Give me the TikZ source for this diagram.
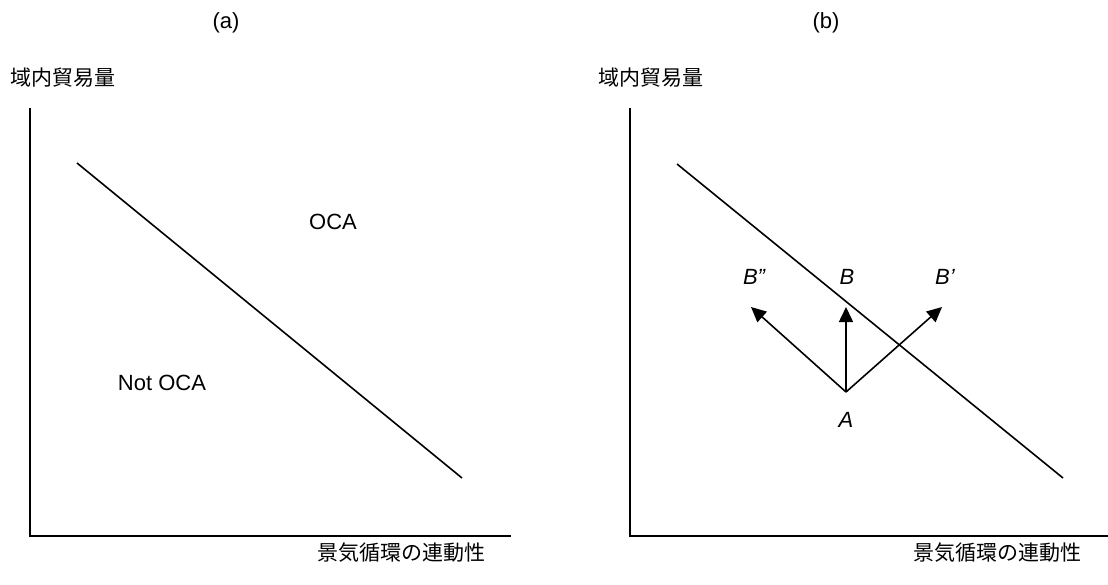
\documentclass[tikz,border=0pt]{standalone}
\usepackage{fontspec}
\setmainfont{Liberation Sans}
\newfontfamily\cjk{Noto Sans CJK JP}[Scale=1.0]
\usetikzlibrary{arrows.meta}
\begin{document}
\begin{tikzpicture}[x=1pt,y=-1pt,
  lbl/.style={inner sep=0pt,font=\fontsize{22}{24}\selectfont},
  jlbl/.style={inner sep=0pt,font=\fontsize{21}{24}\selectfont\cjk},
  axis/.style={line width=2.4pt},
  diag/.style={line width=1.6pt},
  vec/.style={line width=1.6pt,-{Triangle[length=15pt,width=14pt]}}]
\useasboundingbox (0,0) rectangle (1108,584);
% panel (a)
\node[lbl] (ta) at (226,23) {(a)};
\node[jlbl,anchor=west] (ya) at (10,78) {域内貿易量};
\coordinate (oa) at (30,536);
\coordinate (yta) at (30,108);
\coordinate (xea) at (511,536);
\draw[axis] (yta) -- (oa) -- (xea);
\coordinate (d1a) at (77,163);
\coordinate (d2a) at (462,478);
\draw[diag] (d1a) -- (d2a);
\node[lbl] (oca) at (333,222) {OCA};
\node[lbl] (noca) at (162,383) {Not OCA};
\node[jlbl,anchor=east] (xa) at (486,553) {景気循環の連動性};
% panel (b)
\node[lbl] (tb) at (826,23) {(b)};
\node[jlbl,anchor=west] (yb) at (598,78) {域内貿易量};
\coordinate (ob) at (630,536);
\coordinate (ytb) at (630,108);
\coordinate (xeb) at (1111,536);
\draw[axis] (ytb) -- (ob) -- (xeb);
\coordinate (d1b) at (677,164);
\coordinate (d2b) at (1063,478);
\draw[diag] (d1b) -- (d2b);
\node[jlbl,anchor=east] (xb) at (1082,553) {景気循環の連動性};
\coordinate (a0) at (846,392);
\coordinate (tB2) at (751,307);
\coordinate (tB) at (846,307);
\coordinate (tB1) at (942,307);
\draw[vec] (a0) -- (tB2);
\draw[vec] (a0) -- (tB);
\draw[vec] (a0) -- (tB1);
\node[lbl,font=\fontsize{22}{24}\selectfont\itshape] (A) at (846,420) {A};
\node[lbl,font=\fontsize{22}{24}\selectfont\itshape] (B) at (847,277) {B};
\node[lbl,font=\fontsize{22}{24}\selectfont\itshape] (B2) at (754,277) {B”};
\node[lbl,font=\fontsize{22}{24}\selectfont\itshape] (B1) at (945,277) {B’};
\end{tikzpicture}
\end{document}
